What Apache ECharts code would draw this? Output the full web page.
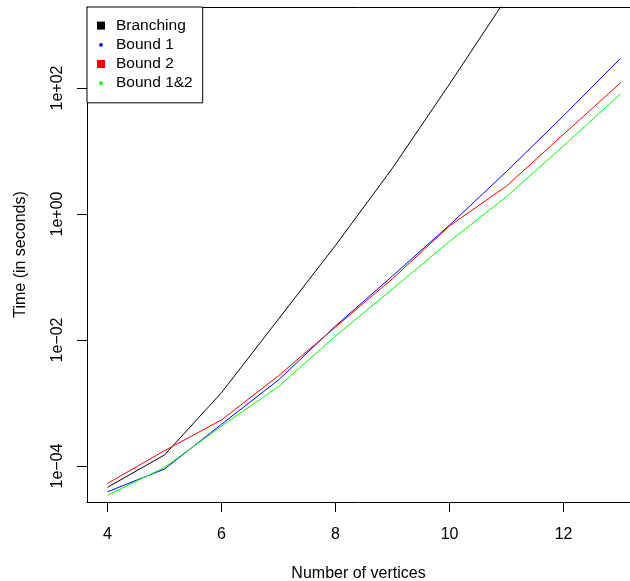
<!DOCTYPE html>
<html>
<head>
    <meta charset="utf-8">
    <script type="text/javascript" src="https://cdn.jsdelivr.net/npm/echarts@6/dist/echarts.min.js"></script>
    <title></title>
    <style>
        html, body { margin: 0; padding: 0; background: #fff; }
        #main { width: 630px; height: 581px; }
    </style>
</head>
<body>
<div id="main"></div>
<script type="text/javascript">
    // values (seconds)
    var vertices = [4, 5, 6, 7, 8, 9, 10, 11, 12, 13];
    var branching = [4.6e-5, 1.5e-4, 1.46e-3, 0.0215, 0.318, 5.37, 115.6, 2690];
    var bound1 = [3.9e-5, 8.95e-5, 4.6e-4, 2.32e-3, 0.0167, 0.104, 0.668, 4.73, 36.3, 296];
    var bound2 = [5.3e-5, 1.75e-4, 5.4e-4, 2.71e-3, 0.0161, 0.094, 0.646, 2.78, 18.4, 121];
    var bound12 = [3.43e-5, 9.5e-5, 4.3e-4, 1.82e-3, 0.0116, 0.0646, 0.369, 1.88, 12.1, 80.4];
    var xTicks = [4, 6, 8, 10, 12];
    var yTicks = [1e-4, 1e-2, 1, 100];
    var yTickLabels = ['1e\u221204', '1e\u221202', '1e+00', '1e+02'];

    var names = ['Branching', 'Bound 1', 'Bound 2', 'Bound 1&2'];
    var colors = ['#000000', '#0000ff', '#ff0000', '#00ff00'];
    var values = [branching, bound1, bound2, bound12];
    var dotIcon = 'path://M0,0M10,10M5,2.6A2.4,2.4,0,1,1,5,7.4A2.4,2.4,0,1,1,5,2.6Z';
    var icons = ['rect', dotIcon, 'rect', dotIcon];
    var font = '"Liberation Sans", Arial, Helvetica, sans-serif';

    function pairs(ys) {
        var out = [];
        for (var i = 0; i < ys.length; i++) {
            out.push([vertices[i], ys[i]]);
        }
        return out;
    }

    var series = [];
    for (var k = 0; k < names.length; k++) {
        series.push({
            name: names[k],
            type: 'line',
            data: pairs(values[k]),
            showSymbol: false,
            symbol: 'none',
            color: colors[k],
            lineStyle: {color: colors[k], width: 1},
            animation: false
        });
    }

    var myChart = echarts.init(document.getElementById('main'));
    var option = {
        backgroundColor: '#fff',
        animation: false,
        // the plot box runs past the right edge of the picture, so no right border
        grid: {
            left: 87,
            top: 7,
            right: 0,
            bottom: 79,
            show: false,
            containLabel: false,
            outerBoundsMode: 'none'
        },
        legend: {
            orient: 'vertical',
            left: 87,
            top: 7,
            padding: [9, 10, 10, 10],
            itemWidth: 8,
            itemHeight: 8,
            itemGap: 0,
            borderColor: '#000',
            borderWidth: 1,
            backgroundColor: '#fff',
            textStyle: {
                fontFamily: font,
                fontSize: 15.5,
                color: '#000',
                lineHeight: 19.2,
                padding: [0, 0, 0, 6]
            },
            data: names.map(function (n, i) {
                return {name: n, icon: icons[i], itemStyle: {color: colors[i]}};
            })
        },
        xAxis: [{
            type: 'value',
            min: 3.64,
            max: 13.166,
            name: 'Number of vertices',
            nameLocation: 'middle',
            nameGap: 64,
            nameTextStyle: {fontFamily: font, fontSize: 16, color: '#000'},
            axisLine: {show: true, lineStyle: {color: '#000', width: 1}},
            splitLine: {show: false},
            axisTick: {show: true, length: 10, lineStyle: {color: '#000'}, customValues: xTicks},
            axisLabel: {
                fontFamily: font, fontSize: 16, color: '#000', margin: 25,
                customValues: xTicks
            }
        }, {
            type: 'value',
            position: 'top',
            min: 3.64,
            max: 13.166,
            axisLine: {show: true, lineStyle: {color: '#000', width: 1}},
            axisTick: {show: false},
            axisLabel: {show: false},
            splitLine: {show: false}
        }],
        yAxis: {
            type: 'log',
            logBase: 10,
            min: 2.685e-5,
            max: 1932,
            name: 'Time (in seconds)',
            nameLocation: 'middle',
            nameGap: 58,
            nameRotate: 90,
            nameTextStyle: {fontFamily: font, fontSize: 16, color: '#000'},
            axisLine: {show: true, lineStyle: {color: '#000', width: 1}},
            splitLine: {show: false},
            axisTick: {show: true, length: 10, lineStyle: {color: '#000'}, customValues: yTicks},
            axisLabel: {
                fontFamily: font, fontSize: 16, color: '#000', margin: 21, rotate: 90,
                customValues: yTicks,
                formatter: function (v) {
                    for (var i = 0; i < yTicks.length; i++) {
                        if (Math.abs(Math.log10(v) - Math.log10(yTicks[i])) < 1e-6) return yTickLabels[i];
                    }
                    return '';
                }
            }
        },
        series: series
    };
    myChart.setOption(option);
</script>
</body>
</html>
